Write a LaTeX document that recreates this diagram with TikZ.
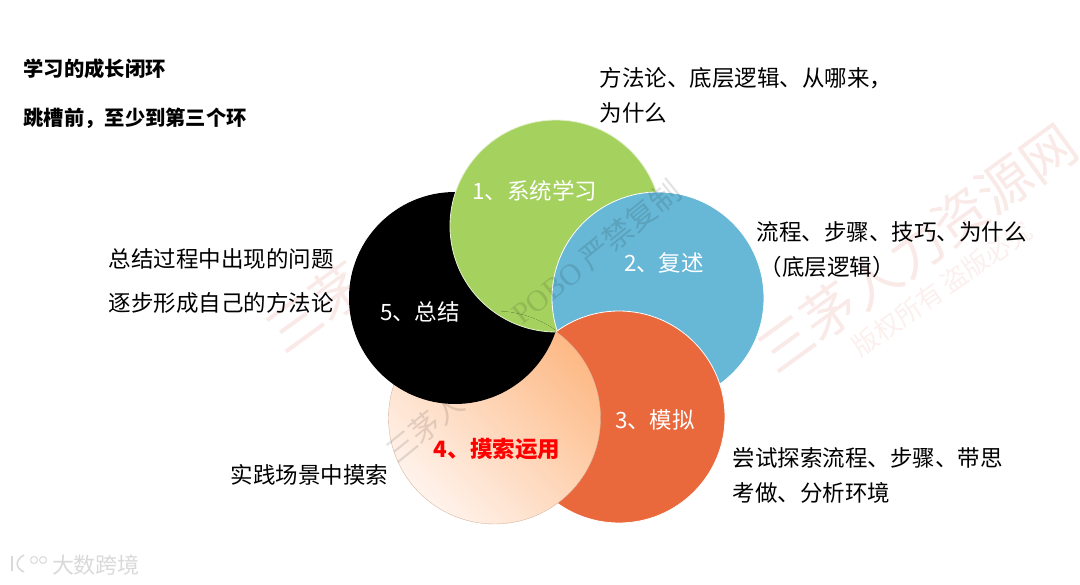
\documentclass[tikz,border=0pt]{standalone}
\usepackage{fontspec}
\usepackage{xcolor}
\setmainfont{Noto Sans CJK SC}
\newfontfamily\pobofont{Liberation Serif}
\definecolor{loopgreen}{HTML}{A5D15F}
\definecolor{loopblue}{HTML}{67B7D6}
\definecolor{looporange}{HTML}{E9683C}
\definecolor{peachdark}{HTML}{FDB985}
\definecolor{peachlight}{HTML}{FFF3EC}
\definecolor{peachedge}{HTML}{D9B59E}
\definecolor{markbig}{HTML}{F9E9E7}
\definecolor{marksmall}{HTML}{FBF0EE}
\definecolor{markthin}{HTML}{E2E2E2}
\usetikzlibrary{positioning}

\begin{document}
\begin{tikzpicture}[x=1pt,y=-1pt]

\tikzset{
disc/.style={
    circle,
    inner sep=0pt,
    minimum size=212pt
},
greendisc/.style={disc,fill=loopgreen,draw=white!70!loopgreen,thick},
blackdisc/.style={disc,fill=black},
lbl/.style={font=\fontsize{22.5}{26}\selectfont,text=white},
note/.style={font=\fontsize{22.5}{35}\selectfont,align=left,anchor=west,text=black},
head/.style={font=\fontsize{20.3}{24}\selectfont\bfseries,anchor=west},
bigmark/.style={font=\fontsize{54}{60}\selectfont,text=markbig,rotate=36},
thinmark/.style={font=\fontsize{30}{36}\selectfont,text=markthin,rotate=39,blend mode=multiply}
}

\useasboundingbox (0,0) rectangle (1080,585);

% watermarks behind the circles
\node[bigmark] (markleft) at (338,291) {三茅人};
\node[bigmark] (markright) at (917,248) {三茅人力资源网};
\node[font=\fontsize{26}{30}\selectfont,text=marksmall,rotate=35] (markrights) at (942,288) {版权所有\,盗版必究};

% circles, each one over the one before
\node[blackdisc] (sumback) at (455,298) {};
\node[greendisc] (learn) at (556,226) {};
\node[disc,fill=loopblue,draw=white,thick] (retell) at (658,298) {};
\node[disc,fill=looporange,draw=white,thick] (imitate) at (619,417) {};
\node[disc,left color=peachlight,right color=peachdark,shading angle=135,draw=peachedge] (apply) at (494.5,418) {};

% black goes back over the peach to close the ring
\begin{scope}
\clip (494.5,418) circle (107);
\node[blackdisc] (sum) at (455,298) {};
\clip (455,298) circle (106);
\node[greendisc] (learntop) at (556,226) {};
\end{scope}

% thin watermarks over the circles
\node[thinmark] (markpobo) at (596,252) {{\pobofont POBO} 严禁复制};
\node[thinmark] (markcorner) at (425,427) {三茅人};

\node[lbl] (lbllearn) at (535,191) {1、系统学习};
\node[lbl] (lblretell) at (664,263) {2、复述};
\node[lbl] (lblimitate) at (655,420) {3、模拟};
\node[lbl] (lblsum) at (420,312) {5、总结};
\node[lbl,text=red,font=\fontsize{22.5}{26}\selectfont\bfseries] (lblapply) at (497,449) {4、摸索运用};

\node[head] (title) at (20,69) {学习的成长闭环};
\node[head] (subtitle) at (20,118) {跳槽前，至少到第三个环};

\node[note] (notelearn) at (596,95) {方法论、底层逻辑、从哪来，\\为什么};
\node[note] (noteretell) at (753,250) {流程、步骤、技巧、为什么\\\hspace{3pt}（底层逻辑）};
\node[note] (noteimitate) at (729,475) {尝试探索流程、步骤、带思\\考做、分析环境};
\node[note,font=\fontsize{22.5}{44}\selectfont] (notesum) at (105,281) {总结过程中出现的问题\\逐步形成自己的方法论};
\node[note] (noteapply) at (227,475) {实践场景中摸索};

% logo, bottom left
\draw[gray!30,line width=1.6pt] (12,556) -- (12,571);
\draw[gray!30,line width=1.6pt] (24,555) .. controls (15,560) and (15,568) .. (24,572);
\node[circle,draw=gray!30,line width=1pt,minimum size=7pt,inner sep=0pt] (logoa) at (34,560) {};
\node[circle,draw=gray!30,line width=1pt,minimum size=7pt,inner sep=0pt] (logob) at (43,560) {};
\node[font=\fontsize{22}{26}\selectfont,text=gray!30] (brand) at (96,565) {大数跨境};

\end{tikzpicture}
\end{document}
